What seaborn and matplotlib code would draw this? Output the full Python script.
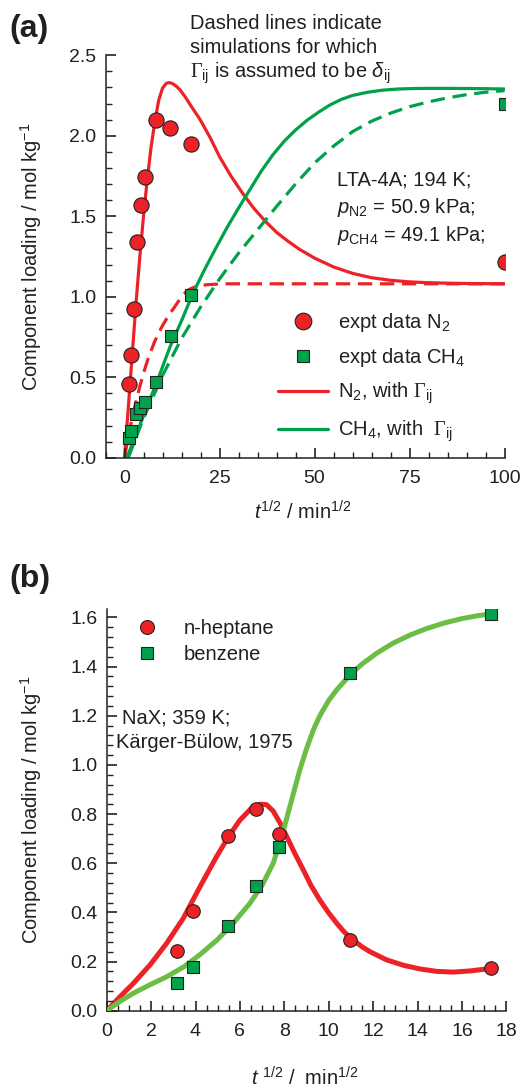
import matplotlib
matplotlib.use('Agg')
import matplotlib.pyplot as plt
from matplotlib.lines import Line2D
from matplotlib.ticker import MultipleLocator
import seaborn as sns

# ---------------- Panel (a) data ----------------
n2_t = [1.3, 1.7, 2.4, 3.4, 4.3, 5.4, 8.2, 12.1, 17.6, 100]
n2_q = [0.46, 0.635, 0.925, 1.34, 1.57, 1.745, 2.10, 2.05, 1.95, 1.215]
ch4_t = [1.2, 1.8, 2.9, 4.0, 5.3, 8.2, 12.2, 17.5, 100]
ch4_q = [0.12, 0.165, 0.27, 0.31, 0.345, 0.47, 0.756, 1.008, 2.20]

n2_sim_t = [0, 1, 2, 3, 4, 5, 6, 7, 8, 9, 10, 11, 11.7, 12.5, 13.5, 14.6, 16, 17.5, 19.9,
            22.5, 25, 28, 31, 34, 37, 40, 43, 46, 50, 55, 60, 65, 70, 75, 80, 85, 90, 95, 100]
n2_sim_q = [0, 0.31, 0.63, 0.95, 1.24, 1.50, 1.73, 1.93, 2.09, 2.22, 2.295, 2.325, 2.33,
            2.325, 2.31, 2.285, 2.24, 2.185, 2.10, 1.99, 1.87, 1.75, 1.645, 1.55, 1.47, 1.40,
            1.345, 1.295, 1.24, 1.185, 1.145, 1.118, 1.102, 1.092, 1.087, 1.084, 1.082, 1.081,
            1.08]
n2_dash_t = [0, 1, 2, 3, 4, 5, 6, 7, 8, 9, 10, 11, 12, 13, 14, 15.5, 17, 18.5, 20, 22, 24.3,
             27, 30, 40, 60, 80, 100]
n2_dash_q = [0, 0.13, 0.245, 0.345, 0.44, 0.525, 0.60, 0.665, 0.725, 0.775, 0.82, 0.86,
             0.897, 0.93, 0.965, 1.015, 1.045, 1.06, 1.07, 1.075, 1.078, 1.08, 1.08, 1.08,
             1.08, 1.08, 1.08]

ch4_sim_t = [0.6, 3, 6, 9, 12, 15, 18, 21, 24, 27, 30, 33, 36, 39, 42, 45, 48, 51, 54, 57,
             60, 64, 68, 72, 76, 80, 85, 90, 95, 100]
ch4_sim_q = [0, 0.14, 0.32, 0.50, 0.69, 0.85, 1.02, 1.165, 1.30, 1.43, 1.55, 1.665, 1.78,
             1.88, 1.965, 2.035, 2.095, 2.145, 2.19, 2.225, 2.25, 2.27, 2.283, 2.29, 2.293,
             2.294, 2.294, 2.293, 2.292, 2.29]
ch4_dash_t = [1, 5, 10, 15, 20, 25, 30, 35, 40, 45, 50, 55, 60, 65, 70, 75, 80, 85, 90, 95,
              100]
ch4_dash_q = [0, 0.245, 0.51, 0.74, 0.935, 1.11, 1.27, 1.415, 1.56, 1.70, 1.83, 1.935,
              2.025, 2.09, 2.14, 2.18, 2.21, 2.235, 2.255, 2.27, 2.28]

# ---------------- Panel (b) data ----------------
b_t = [3.16, 3.87, 5.48, 6.71, 7.75, 10.95, 17.32]
hep_q = [0.243, 0.404, 0.712, 0.82, 0.72, 0.286, 0.172]
benz_q = [0.111, 0.178, 0.346, 0.509, 0.665, 1.375, 1.615]

hep_fit_t = [0, 0.6, 1.2, 1.95, 2.7, 3.45, 4.2, 4.95, 5.5, 6.0, 6.5, 6.9, 7.2, 7.5, 7.8, 8.1,
             8.5, 8.86, 9.2, 9.6, 10.0, 10.36, 10.7, 11.1, 11.5, 11.86, 12.6, 13.36, 14.1,
             14.86, 15.6, 16.4, 17.32]
hep_fit_q = [0, 0.057, 0.111, 0.186, 0.274, 0.376, 0.504, 0.627, 0.71, 0.775, 0.822, 0.84,
             0.838, 0.812, 0.765, 0.71, 0.635, 0.572, 0.51, 0.45, 0.398, 0.356, 0.32, 0.288,
             0.26, 0.24, 0.207, 0.185, 0.17, 0.16, 0.157, 0.162, 0.172]
benz_fit_t = [0, 0.6, 1.2, 2.0, 2.7, 3.5, 4.2, 5.0, 5.7, 6.45, 7.0, 7.5, 7.81, 8.1, 8.4, 8.7,
              9.0, 9.3, 9.6, 10.0, 10.36, 11.0, 11.5, 12.16, 12.9, 13.66, 14.4, 15.16, 16.0,
              16.67, 17.32]
benz_fit_q = [0, 0.038, 0.071, 0.108, 0.138, 0.18, 0.228, 0.29, 0.356, 0.437, 0.51, 0.60,
              0.685, 0.78, 0.88, 0.98, 1.065, 1.14, 1.20, 1.262, 1.305, 1.37, 1.41, 1.454,
              1.495, 1.528, 1.554, 1.576, 1.595, 1.606, 1.615]

# ---------------- style ----------------
RED = '#ec2227'
GREEN = '#00a14b'
LGREEN = '#6cbd45'
EDGE = '#222222'
TXT = '#231f20'

sns.set_theme(style='ticks')
plt.rcParams['font.family'] = ['Liberation Sans', 'DejaVu Sans']
plt.rcParams.update({
    'mathtext.fontset': 'custom',
    'mathtext.rm': 'Liberation Sans',
    'mathtext.it': 'Liberation Sans:italic',
    'mathtext.bf': 'Liberation Sans:bold',
    'mathtext.sf': 'Liberation Serif',
    'text.color': TXT,
    'axes.labelcolor': TXT,
    'axes.axisbelow': False,
})

W, H = 528, 1090
fig = plt.figure(figsize=(W / 100, H / 100), dpi=100)


def rect(x0, y0, x1, y1):
    return [x0 / W, 1 - y1 / H, (x1 - x0) / W, (y1 - y0) / H]


ax1 = fig.add_axes(rect(105.5, 55.2, 504.5, 457.7))
ax2 = fig.add_axes(rect(106.7, 609, 506.3, 1010.7))

FS = 14.5
TFS = 14


def style_axes(ax):
    for s in ('top', 'right'):
        ax.spines[s].set_visible(False)
    for s in ('left', 'bottom'):
        ax.spines[s].set_color(EDGE)
        ax.spines[s].set_linewidth(1.1)
    ax.tick_params(which='both', direction='in', bottom=True, left=True, top=False,
                   right=False, color=EDGE, labelcolor=TXT, labelsize=TFS)
    ax.tick_params(which='major', length=7, width=1.2)
    ax.tick_params(which='minor', length=4.5, width=1.0)
    ax.tick_params(axis='y', which='both', pad=6.5)
    ax.tick_params(axis='x', which='both', pad=9)


# ---- panel (a) ----
sns.lineplot(x=n2_sim_t, y=n2_sim_q, ax=ax1, color=RED, lw=2.3, sort=False,
             estimator=None, legend=False, zorder=2)
sns.lineplot(x=n2_dash_t, y=n2_dash_q, ax=ax1, color=RED, lw=2.3, sort=False,
             estimator=None, legend=False, linestyle=(0, (4.5, 2.4)), zorder=2)
sns.lineplot(x=ch4_sim_t, y=ch4_sim_q, ax=ax1, color=GREEN, lw=2.3, sort=False,
             estimator=None, legend=False, zorder=2)
sns.lineplot(x=ch4_dash_t, y=ch4_dash_q, ax=ax1, color=GREEN, lw=2.3, sort=False,
             estimator=None, legend=False, linestyle=(0, (4.5, 2.4)), zorder=2)
sns.scatterplot(x=n2_t, y=n2_q, ax=ax1, marker='o', s=120, color=RED, edgecolor=EDGE,
                linewidth=0.8, zorder=4, legend=False)
sns.scatterplot(x=ch4_t, y=ch4_q, ax=ax1, marker='s', s=64, color=GREEN, edgecolor=EDGE,
                linewidth=0.8, zorder=5, legend=False)

ax1.set_xlim(-5, 100)
ax1.set_ylim(0, 2.5)
ax1.xaxis.set_major_locator(MultipleLocator(25))
ax1.xaxis.set_minor_locator(MultipleLocator(5))
ax1.yaxis.set_major_locator(MultipleLocator(0.5))
ax1.yaxis.set_minor_locator(MultipleLocator(0.1))
ax1.set_ylabel('Component loading / mol kg$^{-1}$', fontsize=FS)
ax1.set_xlabel(r'$t^{1/2}$ / min$^{1/2}$', fontsize=FS)
ax1.yaxis.set_label_coords(-0.155, 0.5)
ax1.xaxis.set_label_coords(0.495, -0.105)
style_axes(ax1)

h_a = [
    Line2D([], [], ls='none', marker='o', ms=12, mfc=RED, mec=EDGE, mew=0.8),
    Line2D([], [], ls='none', marker='s', ms=8.5, mfc=GREEN, mec=EDGE, mew=0.8),
    Line2D([], [], color=RED, lw=2.3),
    Line2D([], [], color=GREEN, lw=2.3),
]
l_a = ['expt data N$_2$', 'expt data CH$_4$',
       r'N$_2$, with $\mathsf{\Gamma}_{\rm ij}$', r'CH$_4$, with  $\mathsf{\Gamma}_{\rm ij}$']
ax1.legend(h_a, l_a, loc='upper left', bbox_to_anchor=(0.432, 0.365), frameon=False,
           borderpad=0, borderaxespad=0, handlelength=2.5, handletextpad=0.5,
           labelspacing=0.6, fontsize=FS)

# ---- panel (b) ----
sns.lineplot(x=hep_fit_t, y=hep_fit_q, ax=ax2, color=RED, lw=3.6, sort=False,
             estimator=None, legend=False, zorder=2)
sns.lineplot(x=benz_fit_t, y=benz_fit_q, ax=ax2, color=LGREEN, lw=3.6, sort=False,
             estimator=None, legend=False, zorder=3)
sns.scatterplot(x=b_t, y=hep_q, ax=ax2, marker='o', s=95, color=RED, edgecolor=EDGE,
                linewidth=0.8, zorder=5, legend=False)
sns.scatterplot(x=b_t, y=benz_q, ax=ax2, marker='s', s=64, color=GREEN, edgecolor=EDGE,
                linewidth=0.8, zorder=4, legend=False)

ax2.set_xlim(0, 18)
ax2.set_ylim(0, 1.634)
ax2.xaxis.set_major_locator(MultipleLocator(2))
ax2.xaxis.set_minor_locator(MultipleLocator(0.5))
ax2.yaxis.set_major_locator(MultipleLocator(0.2))
ax2.yaxis.set_minor_locator(MultipleLocator(0.04))
ax2.set_ylabel('Component loading / mol kg$^{-1}$', fontsize=FS)
ax2.set_xlabel(r'$t$ $^{1/2}$ /  min$^{1/2}$', fontsize=FS)
ax2.yaxis.set_label_coords(-0.157, 0.5)
ax2.xaxis.set_label_coords(0.495, -0.138)
style_axes(ax2)

h_b = [
    Line2D([], [], ls='none', marker='o', ms=10, mfc=RED, mec=EDGE, mew=0.8),
    Line2D([], [], ls='none', marker='s', ms=8.5, mfc=GREEN, mec=EDGE, mew=0.8),
]
ax2.legend(h_b, ['n-heptane', 'benzene'], loc='upper left', bbox_to_anchor=(0.061, 0.976),
           frameon=False, borderpad=0, borderaxespad=0, handlelength=1.6,
           handletextpad=1.0, labelspacing=0.35, fontsize=FS)

# ---- annotations ----
def ftext(x, y, s, **kw):
    kw.setdefault('fontsize', FS)
    fig.text(x / W, 1 - y / H, s, ha='left', va='baseline', **kw)


ftext(9, 37, '(a)', fontsize=23, fontweight='bold')
ftext(9, 587, '(b)', fontsize=23, fontweight='bold')
ftext(190, 29.3, 'Dashed lines indicate')
ftext(190, 53.3, 'simulations for which')
ftext(190, 77.3, r'$\mathsf{\Gamma}_{\rm ij}$ is assumed to be $\delta_{\rm ij}$')
ftext(337, 185, 'LTA-4A; 194 K;')
ftext(337, 213, r'$p_{\rm N2}$ = 50.9 kPa;')
ftext(337, 241, r'$p_{\rm CH4}$ = 49.1 kPa;')
ftext(122, 723, 'NaX; 359 K;')
ftext(116, 748, 'Kärger-Bülow, 1975')

fig.savefig('out.png', dpi=100)
